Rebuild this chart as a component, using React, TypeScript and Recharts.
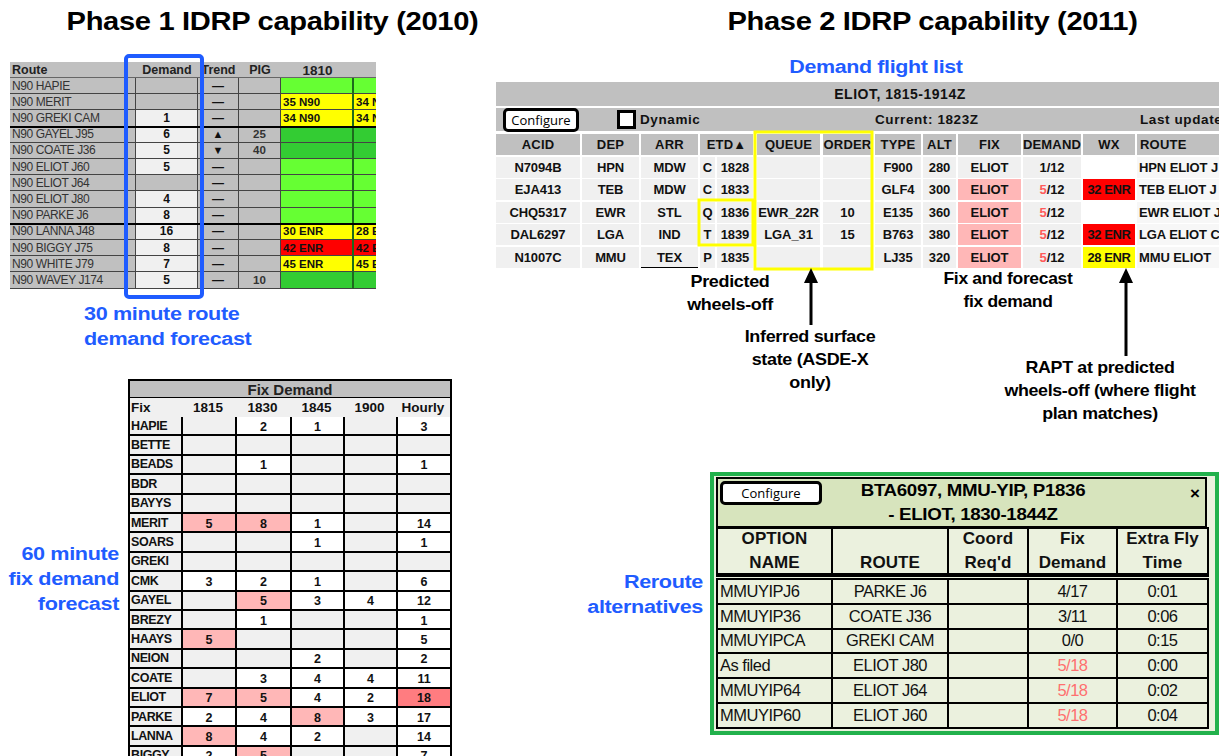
import React from "react";
import { Surface, Rectangle, Polygon } from "recharts";

const FONT = '"Liberation Sans", Arial, Helvetica, sans-serif';
const BTN_FONT = '"Open Sans", "Noto Sans", sans-serif';
const BLUE = "#1f5cff";
const GREY = "#c0c0c0";
const LIGHT = "#f0f0f0";
const PINK = "#ffb7b7";
const DEEP_PINK = "#ff7c80";
const GREEN = "#66ff33";
const DARK_GREEN = "#33cc33";
const YELLOW = "#ffff00";
const RED = "#ff0000";

// ---- Phase 1: route demand table ----
const routeNames = [
  "N90 HAPIE", "N90 MERIT", "N90 GREKI CAM", "N90 GAYEL J95", "N90 COATE J36",
  "N90 ELIOT J60", "N90 ELIOT J64", "N90 ELIOT J80", "N90 PARKE J6",
  "N90 LANNA J48", "N90 BIGGY J75", "N90 WHITE J79", "N90 WAVEY J174",
];
const routeDemand = [null, null, 1, 6, 5, 5, null, 4, 8, 16, 8, 7, 5];
const routeTrend = ["—", "—", "—", "▲", "▼", "—", "—", "—", "—", "—", "—", "—", "—"];
const routePig = [null, null, null, 25, 40, null, null, null, null, null, null, null, 10];
const wx1810 = ["", "35 N90", "34 N90", "", "", "", "", "", "", "30 ENR", "42 ENR", "45 ENR", ""];
const wx1825 = ["", "34 N90", "34 N90", "", "", "", "", "", "", "28 ENR", "42 ENR", "45 ENR", ""];
const wxLevel = ["g", "y", "y", "d", "d", "g", "g", "g", "g", "y", "r", "y", "d"];

// ---- Phase 1: fix demand table ----
const fixNames = [
  "HAPIE", "BETTE", "BEADS", "BDR", "BAYYS", "MERIT", "SOARS", "GREKI", "CMK",
  "GAYEL", "BREZY", "HAAYS", "NEION", "COATE", "ELIOT", "PARKE", "LANNA", "BIGGY",
];
const fixTimes = ["1815", "1830", "1845", "1900"];
const fixCounts: (number | null)[][] = [
  [null, 2, 1, null], [null, null, null, null], [null, 1, null, null],
  [null, null, null, null], [null, null, null, null], [5, 8, 1, null],
  [null, null, 1, null], [null, null, null, null], [3, 2, 1, null],
  [null, 5, 3, 4], [null, 1, null, null], [5, null, null, null],
  [null, null, 2, null], [null, 3, 4, 4], [7, 5, 4, 2], [2, 4, 8, 3],
  [8, 4, 2, null], [2, 5, null, null],
];
const fixHourly = [3, null, 1, null, null, 14, 1, null, 6, 12, 1, 5, 2, 11, 18, 17, 14, 7];
// 1 = over threshold (pink), 2 = hourly over threshold (deep pink)
const fixAlert = [
  "00000", "00000", "00000", "00000", "00000", "11000", "00000", "00000", "00000",
  "01000", "00000", "10000", "00000", "00000", "11002", "00100", "10000", "01000",
];

// ---- Phase 2: demand flight list ----
const flightCols = ["ACID", "DEP", "ARR", "ETD▲", "QUEUE", "ORDER", "TYPE", "ALT", "FIX", "DEMAND", "WX", "ROUTE"];
const flightAcid = ["N7094B", "EJA413", "CHQ5317", "DAL6297", "N1007C"];
const flightDep = ["HPN", "TEB", "EWR", "LGA", "MMU"];
const flightArr = ["MDW", "MDW", "STL", "IND", "TEX"];
const flightEtdKind = ["C", "C", "Q", "T", "P"];
const flightEtd = ["1828", "1833", "1836", "1839", "1835"];
const flightQueue = ["", "", "EWR_22R", "LGA_31", ""];
const flightOrder = ["", "", "10", "15", ""];
const flightType = ["F900", "GLF4", "E135", "B763", "LJ35"];
const flightAlt = [280, 300, 360, 380, 320];
const flightFix = ["ELIOT", "ELIOT", "ELIOT", "ELIOT", "ELIOT"];
const flightFixCount = [1, 5, 5, 5, 5];
const flightFixCap = 12;
const flightWx = ["", "32 ENR", "", "32 ENR", "28 ENR"];
const flightRoute = ["HPN ELIOT J", "TEB ELIOT J", "EWR ELIOT J", "LGA ELIOT C", "MMU ELIOT"];

// ---- Phase 2: reroute alternatives ----
const optionNames = ["MMUYIPJ6", "MMUYIP36", "MMUYIPCA", "As filed", "MMUYIP64", "MMUYIP60"];
const optionRoutes = ["PARKE J6", "COATE J36", "GREKI CAM", "ELIOT J80", "ELIOT J64", "ELIOT J60"];
const optionFixDemand = ["4/17", "3/11", "0/0", "5/18", "5/18", "5/18"];
const optionOverCap = [false, false, false, true, true, true];
const optionExtraTime = ["0:01", "0:06", "0:15", "0:00", "0:02", "0:04"];

type BoxProps = {
  x: number; y: number; w: number; h: number;
  bg?: string; children?: React.ReactNode; style?: React.CSSProperties;
};

function Cell({ x, y, w, h, bg, children, style }: BoxProps) {
  return (
    <div
      style={{
        position: "absolute", left: x, top: y, width: w, height: h,
        background: bg, boxSizing: "border-box", display: "flex",
        alignItems: "center", justifyContent: "center", overflow: "hidden",
        whiteSpace: "nowrap", ...style,
      }}
    >
      {children}
    </div>
  );
}

function Label({ x, y, w, lines, size = 18, color = "#000", align = "center", lh, sx = 1 }: {
  x: number; y: number; w: number; lines: string[]; size?: number; color?: string;
  align?: "left" | "center" | "right"; lh?: number; sx?: number;
}) {
  return (
    <div
      style={{
        position: "absolute", left: x, top: y, width: w, fontFamily: FONT,
        fontWeight: 700, fontSize: size, color, textAlign: align,
        lineHeight: `${lh ?? size * 1.28}px`, letterSpacing: -0.3,
        transform: `scaleX(${sx})`, transformOrigin: align, whiteSpace: "nowrap",
      }}
    >
      {lines.map((l) => <div key={l}>{l}</div>)}
    </div>
  );
}

function ConfigureButton({ x, y, w, h }: { x: number; y: number; w: number; h: number }) {
  return (
    <Cell x={x} y={y} w={w} h={h} bg="#fff"
      style={{ border: "3px solid #000", borderRadius: 5, fontFamily: BTN_FONT, fontSize: 13, color: "#000" }}>
      Configure
    </Cell>
  );
}

function RouteTable() {
  const top = 62, headH = 16, rowH = 16.2;
  const cols = [
    { x: 10, w: 126 }, { x: 136, w: 62 }, { x: 198, w: 41 },
    { x: 239, w: 42 }, { x: 281, w: 73 }, { x: 354, w: 22 },
  ];
  const wxBg: Record<string, string> = { g: GREEN, d: DARK_GREEN, y: YELLOW, r: RED };
  const line = "1px solid #444";
  return (
    <>
      <Cell x={10} y={top} w={366} h={headH} bg={GREY}
        style={{ borderBottom: "1px solid #666", justifyContent: "flex-start" }} />
      <Cell x={12} y={top} w={80} h={headH} style={{ justifyContent: "flex-start", fontFamily: FONT, fontWeight: 700, fontSize: 12.5, color: "#222" }}>Route</Cell>
      {["Demand", "Trend", "PIG", "1810"].map((t, i) => (
        <Cell key={t} x={cols[i + 1].x} y={top} w={cols[i + 1].w} h={headH}
          style={{ fontFamily: FONT, fontWeight: 700, fontSize: i === 3 ? 13.5 : 12.5, color: "#222" }}>{t}</Cell>
      ))}
      {routeNames.map((name, r) => {
        const y = top + headH + r * rowH;
        const txt = { fontFamily: FONT, fontSize: 12, fontWeight: 700, color: "#111" };
        return (
          <React.Fragment key={name}>
            <Cell x={cols[0].x} y={y} w={cols[0].w} h={rowH} bg={GREY}
              style={{ borderBottom: line, borderRight: line, justifyContent: "flex-start", paddingLeft: 2, fontFamily: FONT, fontSize: 12, color: "#333", letterSpacing: -0.4 }}>
              {name}
            </Cell>
            <Cell x={cols[1].x} y={y} w={cols[1].w} h={rowH} bg={routeDemand[r] == null ? GREY : LIGHT}
              style={{ borderBottom: line, borderRight: line, ...txt }}>{routeDemand[r] ?? ""}</Cell>
            <Cell x={cols[2].x} y={y} w={cols[2].w} h={rowH} bg={GREY}
              style={{ borderBottom: line, borderRight: line, ...txt, fontSize: routeTrend[r] === "—" ? 12 : 11 }}>{routeTrend[r]}</Cell>
            <Cell x={cols[3].x} y={y} w={cols[3].w} h={rowH} bg={GREY}
              style={{ borderBottom: line, borderRight: line, ...txt, fontSize: 11.5, color: "#333" }}>{routePig[r] ?? ""}</Cell>
            <Cell x={cols[4].x} y={y} w={cols[4].w} h={rowH} bg={wxBg[wxLevel[r]]}
              style={{ borderBottom: line, borderRight: "2px solid #1d6b1d", justifyContent: "flex-start", paddingLeft: 2, ...txt, fontSize: 11.5 }}>{wx1810[r]}</Cell>
            <Cell x={cols[5].x} y={y} w={cols[5].w} h={rowH} bg={wxBg[wxLevel[r]]}
              style={{ borderBottom: line, justifyContent: "flex-start", paddingLeft: 2, ...txt, fontSize: 11.5 }}>{wx1825[r]}</Cell>
          </React.Fragment>
        );
      })}
      <Cell x={10} y={top + headH + 3 * rowH - 1} w={366} h={2} bg="#000" />
      <Cell x={10} y={top + headH + 9 * rowH - 1} w={366} h={2} bg="#000" />
    </>
  );
}

function FixTable() {
  const x0 = 128, top = 379, rowH = 19.4;
  const colX = [130, 181, 235, 290, 343, 396, 450];
  const b = "2px solid #000";
  return (
    <>
      <Cell x={x0} y={top} w={324} h={400} bg="#000" />
      <Cell x={130} y={top + 2} w={320} h={16} bg={GREY}
        style={{ fontFamily: FONT, fontWeight: 700, fontSize: 15, color: "#222" }}>Fix Demand</Cell>
      <Cell x={130} y={top + 19} w={320} h={19} bg={LIGHT} />
      <Cell x={131} y={top + 19} w={50} h={19}
        style={{ justifyContent: "flex-start", fontFamily: FONT, fontWeight: 700, fontSize: 13.5, color: "#111" }}>Fix</Cell>
      {[...fixTimes, "Hourly"].map((t, i) => (
        <Cell key={t} x={colX[i + 1]} y={top + 19} w={colX[i + 2] - colX[i + 1]} h={19}
          style={{ fontFamily: FONT, fontWeight: 700, fontSize: 13.5, color: "#111" }}>{t}</Cell>
      ))}
      {fixNames.map((name, r) => {
        const y = top + 38 + r * rowH;
        const vals = [...fixCounts[r], fixHourly[r]];
        return (
          <React.Fragment key={name}>
            <Cell x={colX[0]} y={y} w={colX[1] - colX[0] + 1} h={rowH} bg={LIGHT}
              style={{ borderBottom: b, justifyContent: "flex-start", paddingLeft: 1, fontFamily: FONT, fontWeight: 700, fontSize: 12.5, color: "#111", letterSpacing: -0.4 }}>
              {name}
            </Cell>
            {vals.map((v, c) => {
              const flag = fixAlert[r][c];
              const bg = flag === "2" ? DEEP_PINK : flag === "1" ? PINK : v == null ? LIGHT : "#fff";
              return (
                <Cell key={c} x={colX[c + 1]} y={y} w={colX[c + 2] - colX[c + 1]} h={rowH} bg={bg}
                  style={{ borderBottom: b, borderLeft: b, fontFamily: FONT, fontWeight: 700, fontSize: 12.5, color: "#111", paddingTop: 2 }}>
                  {v ?? ""}
                </Cell>
              );
            })}
          </React.Fragment>
        );
      })}
    </>
  );
}

function FlightList() {
  const cols = [
    { x: 496, w: 84 }, { x: 582, w: 57 }, { x: 641, w: 57 }, { x: 700, w: 53 },
    { x: 757, w: 63 }, { x: 823, w: 49 }, { x: 875, w: 46 }, { x: 923, w: 33 },
    { x: 958, w: 63 }, { x: 1023, w: 58 }, { x: 1083, w: 52 }, { x: 1137, w: 82 },
  ];
  const rowTops = [157, 179, 202, 224, 247];
  const txt: React.CSSProperties = { fontFamily: FONT, fontWeight: 700, fontSize: 13, color: "#111", letterSpacing: -0.1 };
  const bar: React.CSSProperties = { ...txt, fontSize: 13.5, letterSpacing: 0.6, justifyContent: "flex-start" };
  return (
    <>
      <Cell x={496} y={82} w={723} h={24} bg={GREY} />
      <Cell x={800} y={82} w={200} h={24} style={{ ...txt, fontSize: 14, letterSpacing: 0.5 }}>ELIOT, 1815-1914Z</Cell>
      <Cell x={496} y={108} w={723} h={23} bg={GREY} />
      <ConfigureButton x={503} y={108} w={76} h={24} />
      <Cell x={617} y={110} w={19} h={19} bg="#fff" style={{ border: "3px solid #000" }} />
      <Cell x={640} y={108} w={70} h={23} style={bar}>Dynamic</Cell>
      <Cell x={875} y={108} w={120} h={23} style={bar}>Current: 1823Z</Cell>
      <Cell x={1140} y={108} w={79} h={23} style={bar}>Last update</Cell>
      {flightCols.map((c, i) => (
        <Cell key={c} x={cols[i].x} y={134} w={cols[i].w} h={21} bg={GREY}
          style={{ ...txt, letterSpacing: 0.2, justifyContent: i === 11 ? "flex-start" : "center", paddingLeft: i === 11 ? 3 : 0 }}>{c}</Cell>
      ))}
      {flightAcid.map((acid, r) => {
        const y = rowTops[r];
        const h = 21;
        const over = flightFixCount[r] > 1;
        const wxBg = flightWx[r] === "" ? "#fff" : flightWx[r] === "28 ENR" ? YELLOW : RED;
        return (
          <React.Fragment key={acid}>
            <Cell x={cols[0].x} y={y} w={cols[0].w} h={h} bg={LIGHT} style={txt}>{acid}</Cell>
            <Cell x={cols[1].x} y={y} w={cols[1].w} h={h} bg={LIGHT} style={txt}>{flightDep[r]}</Cell>
            <Cell x={cols[2].x} y={y} w={cols[2].w} h={h} bg={LIGHT}
              style={{ ...txt, borderBottom: r === 4 ? "1px solid #000" : undefined }}>{flightArr[r]}</Cell>
            <Cell x={cols[3].x} y={y} w={15} h={h} bg={LIGHT} style={txt}>{flightEtdKind[r]}</Cell>
            <Cell x={cols[3].x + 17} y={y} w={cols[3].w - 17} h={h} bg={LIGHT} style={txt}>{flightEtd[r]}</Cell>
            <Cell x={cols[4].x} y={y} w={cols[4].w} h={h} bg={LIGHT} style={txt}>{flightQueue[r]}</Cell>
            <Cell x={cols[5].x} y={y} w={cols[5].w} h={h} bg={LIGHT} style={txt}>{flightOrder[r]}</Cell>
            <Cell x={cols[6].x} y={y} w={cols[6].w} h={h} bg={LIGHT} style={txt}>{flightType[r]}</Cell>
            <Cell x={cols[7].x} y={y} w={cols[7].w} h={h} bg={LIGHT} style={txt}>{flightAlt[r]}</Cell>
            <Cell x={cols[8].x} y={y} w={cols[8].w} h={h} bg={over ? PINK : LIGHT} style={txt}>{flightFix[r]}</Cell>
            <Cell x={cols[9].x} y={y} w={cols[9].w} h={h} bg={LIGHT} style={txt}>
              <span style={{ color: over ? "#ff5b5b" : "#111" }}>{flightFixCount[r]}</span>/{flightFixCap}
            </Cell>
            <Cell x={cols[10].x} y={y} w={cols[10].w} h={h} bg={wxBg} style={{ ...txt, letterSpacing: -0.4 }}>{flightWx[r]}</Cell>
            <Cell x={cols[11].x} y={y} w={cols[11].w} h={h} bg="#f7f7f7"
              style={{ ...txt, justifyContent: "flex-start", paddingLeft: 2 }}>{flightRoute[r]}</Cell>
          </React.Fragment>
        );
      })}
    </>
  );
}

function ReroutePanel() {
  const colX = [716, 831, 947, 1027, 1116, 1207];
  const headTop = 527, rowTop = 578, rowH = 24.8;
  const b = "2px solid #000";
  const heads = [["OPTION", "NAME"], ["", "ROUTE"], ["Coord", "Req'd"], ["Fix", "Demand"], ["Extra Fly", "Time"]];
  const txt: React.CSSProperties = { fontFamily: FONT, fontSize: 16.5, color: "#111", letterSpacing: -0.5 };
  return (
    <>
      <Cell x={710} y={472} w={509} h={263} bg="#ebf1de" style={{ border: "4px solid #22b14c" }} />
      <Cell x={716} y={477} w={491} h={51} bg="#d7e4bd" style={{ border: b }} />
      <ConfigureButton x={720} y={481} w={102} h={24} />
      <Label x={843} y={479} w={260} size={17} lh={24} sx={1.1} lines={["BTA6097, MMU-YIP, P1836", "- ELIOT, 1830-1844Z"]} />
      <Cell x={1186} y={484} w={18} h={20} style={{ fontFamily: FONT, fontWeight: 700, fontSize: 17 }}>×</Cell>
      {heads.map((h, i) => (
        <Cell key={i} x={colX[i]} y={headTop} w={colX[i + 1] - colX[i] + 2} h={50}
          style={{ border: b, borderBottom: "4px solid #000", flexDirection: "column", fontFamily: FONT, fontWeight: 700, fontSize: 17, color: "#111", lineHeight: "24px", letterSpacing: 0.1 }}>
          <div>{h[0] || "\u00a0"}</div>
          <div>{h[1]}</div>
        </Cell>
      ))}
      {optionNames.map((name, r) => {
        const y = rowTop + r * rowH;
        const vals = [name, optionRoutes[r], "", optionFixDemand[r], optionExtraTime[r]];
        return vals.map((v, c) => (
          <Cell key={`${name}-${c}`} x={colX[c]} y={y} w={colX[c + 1] - colX[c] + 2} h={rowH + 2}
            style={{
              border: b, ...txt,
              justifyContent: c === 0 ? "flex-start" : "center", paddingLeft: c === 0 ? 2 : 0,
              color: c === 3 && optionOverCap[r] ? "#ff6f6f" : "#111",
            }}>
            {v}
          </Cell>
        ));
      })}
    </>
  );
}

function Overlay() {
  const arrow = (x: number, yTip: number, yTail: number) => (
    <>
      <Rectangle x={x - 1.5} y={yTip + 10} width={3} height={yTail - yTip - 10} fill="#000" />
      <Polygon points={[{ x, y: yTip }, { x: x - 7, y: yTip + 15 }, { x: x + 7, y: yTip + 15 }]} fill="#000" />
    </>
  );
  return (
    <div style={{ position: "absolute", left: 0, top: 0, pointerEvents: "none" }}>
      <Surface width={1225} height={756}>
        <Rectangle x={126} y={56} width={76} height={241} radius={3} fill="none" stroke={BLUE} strokeWidth={4} />
        <Rectangle x={755} y={132} width={117} height={137} fill="none" stroke={YELLOW} strokeWidth={3} />
        <Rectangle x={699} y={200} width={54} height={45} fill="none" stroke={YELLOW} strokeWidth={3} />
        {arrow(811, 268, 325)}
        {arrow(1126, 268, 356)}
      </Surface>
    </div>
  );
}

export default function App() {
  return (
    <div style={{ position: "absolute", left: 0, top: 0, width: 1225, height: 756, background: "#fff", overflow: "hidden", fontFamily: FONT }}>
      <Label x={60} y={5} w={425} size={26} sx={1.12} lines={["Phase 1 IDRP capability (2010)"]} />
      <Label x={720} y={5} w={425} size={26} sx={1.12} lines={["Phase 2 IDRP capability (2011)"]} />

      <RouteTable />
      <Label x={84} y={302} w={200} size={18} color={BLUE} align="left" lh={25} sx={1.2} lines={["30 minute route", "demand forecast"]} />

      <FixTable />
      <Label x={0} y={542} w={119} size={18} color={BLUE} align="right" lh={25} sx={1.2} lines={["60 minute", "fix demand", "forecast"]} />

      <Label x={760} y={56} w={232} size={18} color={BLUE} sx={1.19} lines={["Demand flight list"]} />
      <FlightList />

      <Label x={660} y={270} w={140} size={16.5} lh={23} sx={1.09} lines={["Predicted", "wheels-off"]} />
      <Label x={730} y={325} w={160} size={16.5} lh={23} sx={1.09} lines={["Inferred surface", "state (ASDE-X", "only)"]} />
      <Label x={918} y={267} w={180} size={16.5} lh={23} sx={1.06} lines={["Fix and forecast", "fix demand"]} />
      <Label x={985} y={356} w={230} size={16.5} lh={23} sx={1.08} lines={["RAPT at predicted", "wheels-off (where flight", "plan matches)"]} />

      <Label x={560} y={570} w={143} size={18} color={BLUE} align="right" lh={25} sx={1.2} lines={["Reroute", "alternatives"]} />
      <ReroutePanel />

      <Overlay />
    </div>
  );
}
